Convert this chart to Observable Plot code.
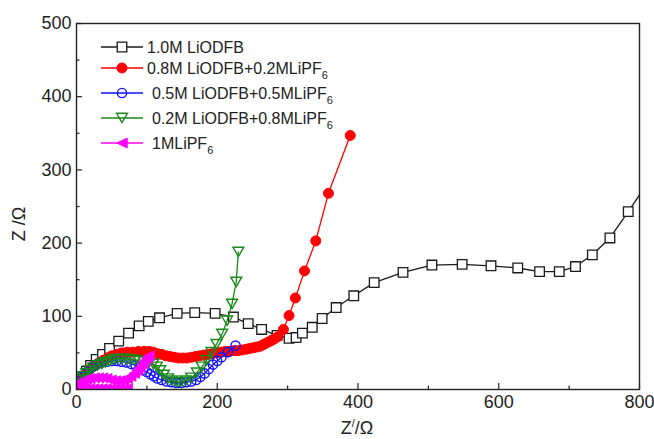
<!DOCTYPE html>
<html>
<head>
<meta charset="utf-8">
<script src="https://cdn.jsdelivr.net/npm/d3@7"></script>
<script src="https://cdn.jsdelivr.net/npm/@observablehq/plot@0.6"></script>
<style>
  body { margin: 0; background: #fff; }
  #chart { position: relative; width: 654px; height: 439px; font-family: Arial, "Liberation Sans", sans-serif; }
</style>
</head>
<body>
<div id="chart"></div>
<script>
// Nyquist plots of cells with different electrolytes (Z' vs Z'', ohm)
const seriesNames = ["1.0M LiODFB", "0.8M LiODFB+0.2MLiPF6", "0.5M LiODFB+0.5MLiPF6", "0.2M LiODFB+0.8MLiPF6", "1MLiPF6"];
const seriesColors = ["#1a1a1a", "#ff0000", "#1010ff", "#1a8a1a", "#ff00ff"];

const blackX = [2, 5, 9, 14, 20, 28, 37, 47, 60, 74, 89, 102, 118, 143, 168, 197, 223, 244, 263, 285, 302, 312, 321, 335, 349, 369, 394, 423, 464, 505, 548, 589, 627, 658, 686, 709, 733, 758, 784, 808];
const blackY = [3, 9, 17, 25, 33, 41, 48, 56, 66, 77, 87, 93, 98, 104, 105, 104, 99, 90, 82, 74, 70, 71, 77, 85, 97, 112, 128, 146, 160, 170, 171, 169, 166, 161, 161, 168, 184, 207, 243, 277];

const redX = [0, 2, 4, 7, 10, 14, 18, 23, 28, 33, 38, 44, 50, 57, 64, 72, 80, 88, 96, 103, 109, 115, 121, 127, 133, 139, 145, 151, 157, 163, 169, 175, 181, 187, 193, 199, 205, 211, 217, 223, 229, 235, 241, 246, 251, 256, 261, 265, 269, 273, 277, 281, 286, 294, 302, 311, 324, 340, 358, 389];
const redY = [2, 6, 10, 15, 19, 23, 27, 31, 34, 37, 40, 43, 46, 48, 50, 51, 51, 52, 52, 52, 51, 49, 48, 46, 45, 44, 43, 43, 43, 44, 45, 46, 47, 48, 49, 50, 51, 52, 52, 53, 53, 54, 55, 56, 57, 58, 59, 61, 63, 65, 67, 69, 72, 82, 101, 125, 162, 203, 268, 347];

const blueX = [0, 2, 5, 9, 13, 18, 23, 29, 36, 43, 50, 57, 64, 71, 78, 84, 90, 95, 100, 105, 110, 115, 121, 128, 135, 142, 149, 156, 163, 170, 176, 182, 188, 194, 200, 206, 215, 226];
const blueY = [3, 8, 13, 18, 23, 27, 31, 34, 37, 38, 39, 39, 38, 37, 35, 33, 30, 27, 24, 21, 18, 15, 13, 11, 10, 9, 9, 10, 11, 13, 17, 22, 28, 34, 39, 44, 51, 60];

const greenX = [0, 3, 6, 10, 14, 19, 24, 30, 36, 41, 47, 53, 59, 65, 71, 77, 83, 89, 96, 103, 109, 114, 119, 124, 130, 136, 142, 148, 155, 163, 171, 178, 185, 192, 199, 207, 214, 221, 227, 230];
const greenY = [3, 8, 13, 18, 22, 26, 30, 33, 35, 37, 39, 41, 42, 42, 42, 41, 40, 39, 38, 37, 35, 31, 26, 20, 15, 12, 10, 10, 12, 16, 23, 31, 40, 51, 62, 76, 94, 117, 147, 188];

// high-frequency points hug the axis before the arc rises
const magentaX = [72, 66, 60, 54, 48, 42, 36, 30, 24, 18, 12, 6, 2, 2, 5, 9, 14, 19, 25, 31, 37, 43, 49, 55, 61, 67, 72, 77, 82, 86, 90, 94, 97, 100, 103];
const magentaY = [1, 1, 1, 1, 1, 1, 1, 1, 1, 1, 1, 1, 1, 5, 9, 12, 14, 15, 16, 16, 16, 15, 13, 12, 12, 13, 15, 18, 22, 26, 30, 35, 39, 43, 46];

const xMajorTicks = [0, 200, 400, 600, 800];
const xMinorTicks = [100, 300, 500, 700];
const yMajorTicks = [0, 100, 200, 300, 400, 500];
const yMinorTicks = [50, 150, 250, 350, 450];

// custom marker shapes: downward and leftward triangles
const triangleDown = {
  draw(ctx, size) {
    const r = Math.sqrt(size / Math.PI);
    const w = r * 1.05, h = r * 0.9;
    ctx.moveTo(-w, -h);
    ctx.lineTo(w, -h);
    ctx.lineTo(0, h);
    ctx.closePath();
  }
};
const triangleLeft = {
  draw(ctx, size) {
    const r = Math.sqrt(size / Math.PI);
    const w = r * 1.0, h = r * 0.95;
    ctx.moveTo(-w, 0);
    ctx.lineTo(w, -h);
    ctx.lineTo(w, h);
    ctx.closePath();
  }
};

const toRows = (xs, ys) => xs.map((x, i) => ({x, y: ys[i]}));
const datasets = [
  toRows(blackX, blackY),
  toRows(redX, redY),
  toRows(blueX, blueY),
  toRows(greenX, greenY),
  toRows(magentaX, magentaY)
];

const markerStyles = [
  {symbol: "square", r: 5.4, fill: "white", stroke: seriesColors[0], strokeWidth: 1.3},
  {symbol: "circle", r: 5, fill: seriesColors[1], stroke: seriesColors[1], strokeWidth: 1},
  {symbol: "circle", r: 4.6, fill: "none", stroke: seriesColors[2], strokeWidth: 1.4},
  {symbol: triangleDown, r: 5.2, fill: "none", stroke: seriesColors[3], strokeWidth: 1.4},
  {symbol: triangleLeft, r: 5.2, fill: seriesColors[4], stroke: seriesColors[4], strokeWidth: 1}
];

const marks = [];
datasets.forEach((data, i) => {
  marks.push(Plot.line(data, {x: "x", y: "y", stroke: seriesColors[i], strokeWidth: 1.3, clip: true}));
  marks.push(Plot.dot(data, {x: "x", y: "y", ...markerStyles[i], clip: true}));
});

const chart = Plot.plot({
  width: 654,
  height: 439,
  marginLeft: 76,
  marginRight: 15,
  marginTop: 23,
  marginBottom: 50,
  style: {fontFamily: "Arial, 'Liberation Sans', sans-serif", fontSize: "18px", color: "#222", background: "white"},
  x: {domain: [0, 800]},
  y: {domain: [0, 500]},
  marks: [
    ...marks,
    Plot.axisX({ticks: xMajorTicks, tickSize: -6, tickPadding: 12, label: null, stroke: "#222", strokeWidth: 1.2, fontSize: 18}),
    Plot.axisX({ticks: xMinorTicks, tickSize: -3.5, tickFormat: () => "", label: null, stroke: "#222", strokeWidth: 1.2}),
    Plot.axisY({ticks: yMajorTicks, tickSize: -6, tickPadding: 11, label: null, stroke: "#222", strokeWidth: 1.2, fontSize: 18}),
    Plot.axisY({ticks: yMinorTicks, tickSize: -3.5, tickFormat: () => "", label: null, stroke: "#222", strokeWidth: 1.2}),
    Plot.frame({stroke: "#222", strokeWidth: 1.4})
  ]
});

document.getElementById("chart").appendChild(chart);

// axis titles with superscript prime
const svg = d3.select(chart);
const xt = svg.append("text")
  .attr("x", 357).attr("y", 434)
  .attr("text-anchor", "middle")
  .attr("font-size", 18).attr("fill", "#222");
xt.append("tspan").text("Z");
xt.append("tspan").attr("dy", -7).attr("font-size", 11).text("/");
xt.append("tspan").attr("dy", 7).text("/Ω");

svg.append("text")
  .attr("transform", "translate(25,224) rotate(-90)")
  .attr("text-anchor", "middle")
  .attr("font-size", 18).attr("fill", "#222")
  .text("Z /Ω");

// legend inside the plot area
const legend = svg.append("g").attr("transform", "translate(101,0)");
const legendRows = [47, 68, 93, 118, 143];
const legendTextX = [46, 46, 51, 51, 51];
seriesNames.forEach((name, i) => {
  const g = legend.append("g").attr("transform", `translate(0,${legendRows[i]})`);
  g.append("line").attr("x1", 0).attr("x2", 42).attr("y1", 0).attr("y2", 0)
    .attr("stroke", seriesColors[i]).attr("stroke-width", 1.3);
  const st = markerStyles[i];
  const type = st.symbol === "square" ? d3.symbolSquare : st.symbol === "circle" ? d3.symbolCircle : st.symbol;
  g.append("path")
    .attr("transform", "translate(21,0)")
    .attr("d", d3.symbol(type, Math.PI * st.r * st.r)())
    .attr("fill", st.fill).attr("stroke", st.stroke).attr("stroke-width", st.strokeWidth);
  const t = g.append("text").attr("x", legendTextX[i]).attr("y", 6)
    .attr("text-anchor", "start")
    .attr("font-size", 16).attr("fill", "#222");
  const m = name.match(/^(.*PF)6$/);
  if (m) {
    t.append("tspan").text(m[1]);
    t.append("tspan").attr("dy", 5).attr("font-size", 11).text("6");
  } else {
    t.text(name);
  }
});
</script>
</body>
</html>
